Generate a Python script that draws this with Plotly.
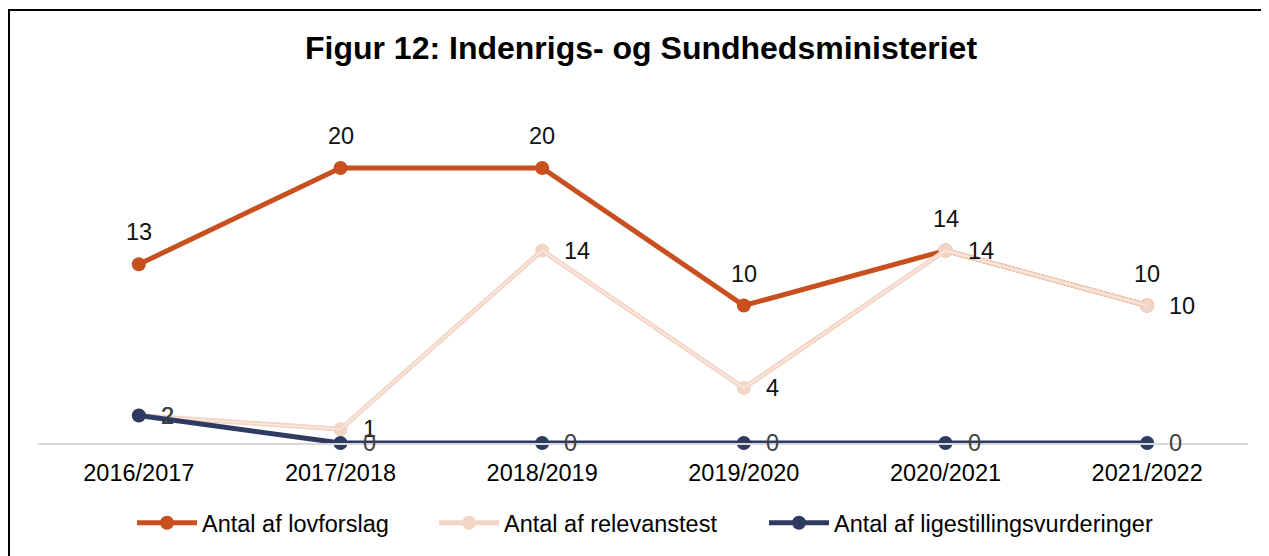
import plotly.graph_objects as go

categories = ["2016/2017", "2017/2018", "2018/2019", "2019/2020", "2020/2021", "2021/2022"]
lovforslag = [13, 20, 20, 10, 14, 10]
relevanstest = [2, 1, 14, 4, 14, 10]
ligestilling = [2, 0, 0, 0, 0, 0]

series_names = ["Antal af lovforslag", "Antal af relevanstest", "Antal af ligestillingsvurderinger"]

C_ORANGE = "#C8501E"
C_PEACH = "#F3D5C6"
C_NAVY = "#2E3A60"
FONT = "Liberation Sans, Arial, sans-serif"

fig = go.Figure()

fig.add_trace(go.Scatter(x=categories, y=lovforslag, name=series_names[0], mode="lines+markers",
                         legend="legend",
                         line=dict(color=C_ORANGE, width=5), marker=dict(size=14, color=C_ORANGE)))
fig.add_trace(go.Scatter(x=categories, y=relevanstest, name=series_names[1], mode="lines+markers",
                         legend="legend2",
                         line=dict(color=C_PEACH, width=5), marker=dict(size=14, color=C_PEACH)))
fig.add_trace(go.Scatter(x=categories, y=relevanstest, showlegend=False, mode="lines", hoverinfo="skip",
                         line=dict(color="#FBEDE6", width=1.2)))
fig.add_trace(go.Scatter(x=categories, y=ligestilling, name=series_names[2], mode="lines+markers",
                         legend="legend3",
                         line=dict(color=C_NAVY, width=5), marker=dict(size=14, color=C_NAVY)))

LBL = 23.5
annotations = []
for c, v in zip(categories, lovforslag):
    annotations.append(dict(x=c, y=v, text=str(v), showarrow=False, yshift=32,
                            font=dict(size=LBL, color="#111111", family=FONT)))
for c, v in zip(categories, relevanstest):
    annotations.append(dict(x=c, y=v, text=str(v), showarrow=False, xanchor="left", xshift=20,
                            font=dict(size=LBL, color="#111111", family=FONT)))
for c, v in zip(categories, ligestilling):
    annotations.append(dict(x=c, y=v, text=str(v), showarrow=False, xanchor="left", xshift=20,
                            font=dict(size=LBL, color="#404040", family=FONT)))

# page body offset is 8px; target pixel positions below are in figure coordinates
L, R, T, B = 30, 29, 105, 121
W, H = 1269, 556
pw, ph = W - L - R, H - T - B

def leg(px):
    return dict(orientation="h", x=(px - 14 - L) / pw, xanchor="left", y=-(523 - 443) / ph, yanchor="middle",
                font=dict(size=23.5, color="#000000", family=FONT), itemwidth=60,
                bgcolor="rgba(0,0,0,0)")

fig.update_layout(
    width=W, height=H,
    margin=dict(l=L, r=R, t=T, b=B),
    paper_bgcolor="white", plot_bgcolor="white",
    font=dict(family=FONT, color="#000000"),
    title=dict(text="<b>Figur 12: Indenrigs- og Sundhedsministeriet</b>", x=(641 - 8) / W, xanchor="center",
               y=1 - 40 / H, yanchor="middle", font=dict(size=32, color="#000000", family=FONT)),
    xaxis=dict(type="category", range=[-0.5, 5.5], showgrid=False, showline=True,
               linecolor="#D9D9D9", linewidth=1.5, ticks="", zeroline=False,
               tickfont=dict(size=23.5, color="#000000", family=FONT), ticklabelstandoff=8),
    yaxis=dict(range=[0, 24], visible=False, showgrid=False, zeroline=False),
    legend=leg(138),
    legend2=leg(440),
    legend3=leg(770),
    annotations=annotations,
    showlegend=True,
    shapes=[dict(type="rect", xref="paper", yref="paper",
                 x0=(1 - L) / pw, x1=1 + (R + 10) / pw,
                 y0=-(B + 10) / ph, y1=1 + (T - 2) / ph,
                 line=dict(color="#000000", width=2), fillcolor="rgba(0,0,0,0)", layer="below")],
)
fig.update_traces(cliponaxis=False)

fig.write_html("out.html")
